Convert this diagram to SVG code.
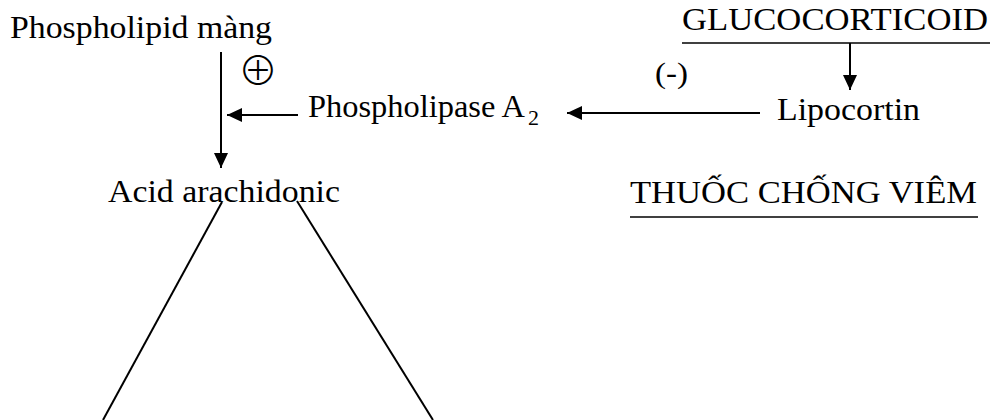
<svg xmlns="http://www.w3.org/2000/svg" width="990" height="420" viewBox="0 0 990 420">
<style>
.t{font-family:"Liberation Serif","DejaVu Serif",serif;font-size:31px;fill:#000}
.sub{font-size:22px}
.ln{stroke:#000;stroke-width:2;fill:none}
.ul{stroke:#000;stroke-width:1.6}
</style>
<defs>
<marker id="ah" viewBox="0 0 15 14" refX="15" refY="7" markerWidth="15" markerHeight="14" markerUnits="userSpaceOnUse" orient="auto">
<path d="M0,0 L15,7 L0,14 Z" fill="#000"/>
</marker>
</defs>
<rect width="990" height="420" fill="#fff"/>
<g id="phospholipid">
<text class="t" x="10" y="38" textLength="262" lengthAdjust="spacingAndGlyphs">Phospholipid màng</text>
</g>
<g id="glucocorticoid">
<text class="t" x="682" y="30" textLength="306" lengthAdjust="spacingAndGlyphs">GLUCOCORTICOID</text>
<line class="ul" x1="682" y1="43" x2="990" y2="43"/>
</g>
<g id="phospholipase">
<text class="t" x="308" y="117"><tspan textLength="217" lengthAdjust="spacingAndGlyphs">Phospholipase A</tspan><tspan class="sub" dy="8" dx="3">2</tspan></text>
</g>
<g id="lipocortin">
<text class="t" x="777" y="120" textLength="143" lengthAdjust="spacingAndGlyphs">Lipocortin</text>
</g>
<g id="acid">
<text class="t" x="108" y="202" textLength="232" lengthAdjust="spacingAndGlyphs">Acid arachidonic</text>
</g>
<g id="thuoc">
<text class="t" x="630" y="203" textLength="347" lengthAdjust="spacingAndGlyphs">THUỐC CHỐNG VIÊM</text>
<line class="ul" x1="630" y1="217" x2="978" y2="217"/>
</g>
<g id="labels">
<text x="258" y="85" text-anchor="middle" style="font-family:'Noto Sans CJK JP','DejaVu Sans',sans-serif;font-size:40px;font-weight:300">⊕</text>
<text class="t" x="655" y="83" style="font-size:30px" textLength="33" lengthAdjust="spacingAndGlyphs">(-)</text>
</g>
<g id="connectors">
<line class="ln" x1="221" y1="52" x2="221" y2="168" marker-end="url(#ah)"/>
<line class="ln" x1="298" y1="115" x2="227" y2="115" marker-end="url(#ah)"/>
<line class="ln" x1="760" y1="113" x2="567" y2="113" marker-end="url(#ah)"/>
<line class="ln" x1="850" y1="43" x2="850" y2="90" marker-end="url(#ah)"/>
<line class="ln" x1="222" y1="202" x2="103" y2="420"/>
<line class="ln" x1="297" y1="201" x2="433" y2="420"/>
</g>
</svg>
